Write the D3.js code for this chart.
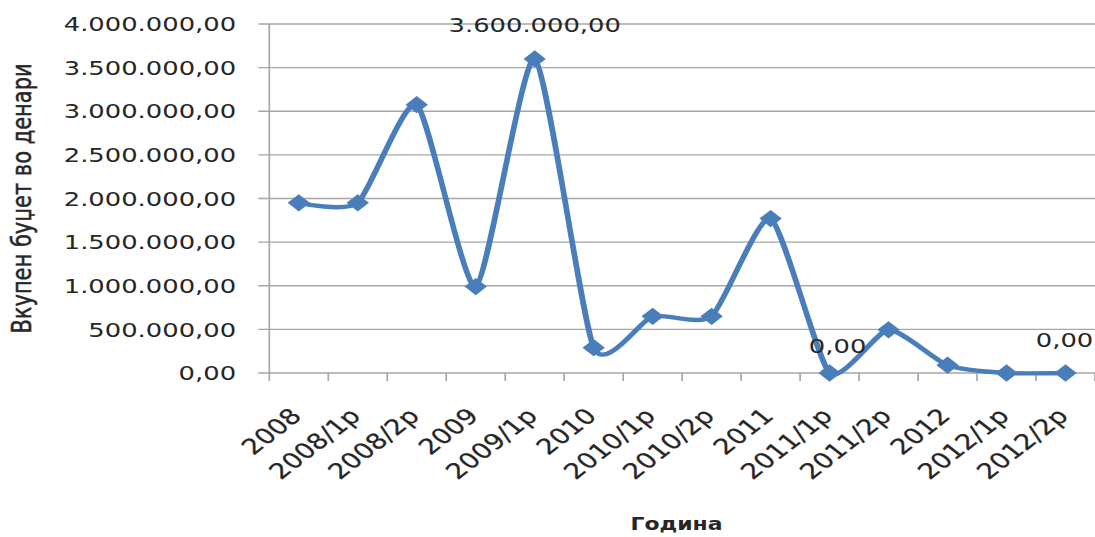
<!DOCTYPE html>
<html>
<head>
<meta charset="utf-8">
<script src="https://cdn.jsdelivr.net/npm/d3@7"></script>
<style>
  html, body { margin: 0; padding: 0; background: #fff; }
  svg { display: block; }
</style>
</head>
<body>
<svg id="chart" width="1095" height="537"></svg>
<script>
// ---- data ----
const categories = ["2008", "2008/1р", "2008/2р", "2009", "2009/1р", "2010", "2010/1р",
                    "2010/2р", "2011", "2011/1р", "2011/2р", "2012", "2012/1р", "2012/2р"];
const budget = [1950000, 1950000, 3075000, 990000, 3600000, 290000, 650000,
                650000, 1770000, 0, 495000, 90000, 0, 0];
const yTicks = [0, 500000, 1000000, 1500000, 2000000, 2500000, 3000000, 3500000, 4000000];
const labelIndices = [4, 9, 13];
const yTitle = "Вкупен буџет во денари";
const xTitle = "Година";

// ---- layout (the original picture is stretched horizontally) ----
const sx = 1.29;
const W = 1095 / sx, H = 537;
const svg = d3.select("#chart")
  .attr("viewBox", `0 0 ${W} ${H}`)
  .attr("preserveAspectRatio", "none");

const pLeft = 269.3 / sx, pRight = 1095 / sx, pTop = 24, pBottom = 373;
const x = d3.scaleBand().domain(categories).range([pLeft, pRight]).padding(0);
const y = d3.scaleLinear().domain([0, 4000000]).range([pBottom, pTop]);

const fmt = v => {
  const s = d3.format(",.2f")(v);
  return s.replace(/,/g, "#").replace(/\./g, ",").replace(/#/g, ".");
};

const gridColor = "#a6a6a6";
const textColor = "#262626";
const font = "DejaVu Sans, Verdana, sans-serif";

// gridlines
svg.append("g").selectAll("line").data(yTicks).join("line")
  .attr("x1", pLeft - 8.5).attr("x2", pRight)
  .attr("y1", d => y(d)).attr("y2", d => y(d))
  .attr("stroke", gridColor).attr("stroke-width", 1.3);

// y axis line
svg.append("line").attr("x1", pLeft).attr("x2", pLeft)
  .attr("y1", pTop).attr("y2", pBottom)
  .attr("stroke", gridColor).attr("stroke-width", 1.3);

// x axis ticks at band boundaries
const bounds = categories.map(c => x(c)).concat([pRight]);
svg.append("g").selectAll("line").data(bounds).join("line")
  .attr("x1", d => d).attr("x2", d => d)
  .attr("y1", pBottom).attr("y2", pBottom + 8)
  .attr("stroke", gridColor).attr("stroke-width", 1.3);

// y tick labels
svg.append("g").selectAll("text").data(yTicks).join("text")
  .attr("x", 183).attr("y", d => y(d)).attr("dy", "0.36em")
  .attr("text-anchor", "end")
  .attr("font-family", font).attr("font-size", 20).attr("fill", textColor)
  .text(d => fmt(d));

// x tick labels
const cx = c => x(c) + x.bandwidth() / 2;
svg.append("g").selectAll("text").data(categories).join("text")
  .attr("transform", c => `translate(${cx(c) - 2},${412}) rotate(-45)`)
  .attr("dy", "0.35em")
  .attr("text-anchor", "end")
  .attr("font-family", font).attr("font-size", 21.5).attr("fill", textColor)
  .attr("stroke", textColor).attr("stroke-width", 0.25)
  .text(c => c);

// line
const pts = categories.map((c, i) => [cx(c), y(budget[i])]);
svg.append("path")
  .attr("d", d3.line().curve(d3.curveCardinal.tension(0.4))(pts))
  .attr("fill", "none").attr("stroke", "#4a7ebb").attr("stroke-width", 4.4)
  .attr("stroke-linejoin", "round");

// markers
const diamond = d3.symbol(d3.symbolSquare, 150)();
svg.append("g").selectAll("path").data(pts).join("path")
  .attr("d", diamond)
  .attr("transform", p => `translate(${p[0]},${p[1]}) rotate(45)`)
  .attr("fill", "#4a7ebb");

// data labels
const labelDx = {9: 8, 13: -1};
const labelDy = {4: -27, 9: -20, 13: -26};
svg.append("g").selectAll("text").data(labelIndices).join("text")
  .attr("x", i => pts[i][0] + (labelDx[i] || 0) / sx)
  .attr("y", i => pts[i][1] + (labelDy[i] || -25))
  .attr("text-anchor", "middle")
  .attr("font-family", font).attr("font-size", 20).attr("fill", textColor)
  .text(i => fmt(budget[i]));

// axis titles
svg.append("text")
  .attr("transform", `translate(${22 / sx},${(pTop + pBottom) / 2}) rotate(-90)`)
  .attr("dy", "0.35em").attr("text-anchor", "middle")
  .attr("font-family", font).attr("font-size", 21).attr("fill", textColor)
  .attr("stroke", textColor).attr("stroke-width", 0.4)
  .text(yTitle);

svg.append("text")
  .attr("x", 676.5 / sx).attr("y", 530)
  .attr("text-anchor", "middle")
  .attr("font-family", font).attr("font-weight", "bold").attr("font-size", 17).attr("fill", textColor)
  .text(xTitle);
</script>
</body>
</html>
